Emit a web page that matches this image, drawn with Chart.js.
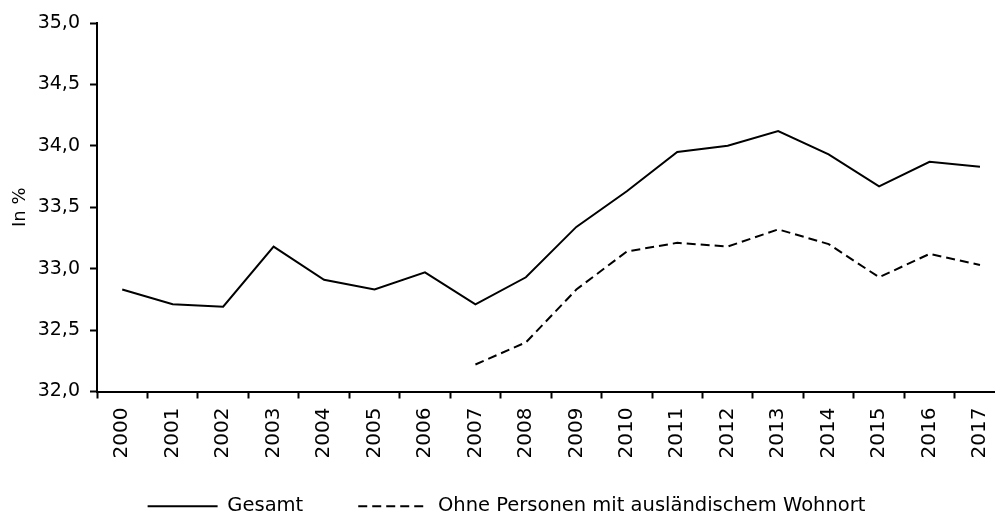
<!DOCTYPE html>
<html>
<head>
<meta charset="utf-8">
<script src="https://cdn.jsdelivr.net/npm/chart.js@4/dist/chart.umd.min.js"></script>
<style>
  html, body { margin: 0; padding: 0; background: #fff; overflow: hidden; }
  #wrap { width: 1013px; height: 515px; }
</style>
</head>
<body>
<div id="wrap"><canvas id="myChart"></canvas></div>
<script>
'use strict';

// data

let years = ['2000', '2001', '2002', '2003', '2004', '2005', '2006', '2007', '2008',
  '2009', '2010', '2011', '2012', '2013', '2014', '2015', '2016', '2017'];

let gesamt = [32.83, 32.71, 32.69, 33.18, 32.91, 32.83, 32.97, 32.71, 32.93,
  33.34, 33.63, 33.95, 34.00, 34.12, 33.93, 33.67, 33.87, 33.83];

let ohneAusland = [null, null, null, null, null, null, null, 32.22, 32.40,
  32.83, 33.14, 33.21, 33.18, 33.32, 33.20, 32.93, 33.12, 33.03];

let yTicks = [32.0, 32.5, 33.0, 33.5, 34.0, 34.5, 35.0];

let fontName = '"DejaVu Sans", sans-serif';
Chart.defaults.font.family = fontName;
Chart.defaults.font.size = 19;
Chart.defaults.color = '#000';

// the legend needs a wide gap between its items, which also pushes it down,
// so lift it back up after layout
const legendShift = {
  id: 'legendShift',
  afterLayout(chart) {
    chart.legend.top -= 16;
    chart.legend.bottom -= 16;
  }
};

// point-style legend items take the point's style, so copy the line's dash back in
function legendLabels(chart) {
  const items = Chart.defaults.plugins.legend.labels.generateLabels(chart);
  items.forEach(function (item) {
    const ds = chart.data.datasets[item.datasetIndex];
    item.lineDash = ds.borderDash || [];
    item.lineWidth = ds.borderWidth;
    item.strokeStyle = ds.borderColor;
  });
  return items;
}

const ctx = document.getElementById('myChart').getContext('2d');

const myChart = new Chart(ctx, {
  type: 'line',
  data: {
    labels: years,
    datasets: [
      {
        label: 'Gesamt',
        data: gesamt,
        borderColor: '#000',
        backgroundColor: 'transparent',
        borderWidth: 2,
        pointRadius: 0,
        tension: 0
      },
      {
        label: 'Ohne Personen mit ausländischem Wohnort',
        data: ohneAusland,
        borderColor: '#000',
        backgroundColor: 'transparent',
        borderWidth: 2,
        borderDash: [9, 5],
        pointRadius: 0,
        tension: 0
      }
    ]
  },
  options: {
    responsive: true,
    maintainAspectRatio: false,
    animation: false,
    layout: { padding: { left: 0, right: 0, top: 23, bottom: -27 } },
    plugins: {
      tooltip: { enabled: false },
      legend: {
        position: 'bottom',
        labels: {
          usePointStyle: true,
          pointStyle: 'line',
          pointStyleWidth: 70,
          padding: 55,
          font: { size: 19.5 },
          generateLabels: legendLabels
        }
      }
    },
    scales: {
      x: {
        offset: true,
        grid: {
          offset: true,
          drawOnChartArea: false,
          drawTicks: true,
          tickLength: 7,
          tickWidth: 2,
          tickColor: '#000'
        },
        border: { color: '#000', width: 2 },
        ticks: {
          minRotation: 90,
          maxRotation: 90,
          padding: 9,
          autoSkip: false,
          font: { size: 20 }
        },
        afterFit: function (scale) {
          scale.height = 66;
        }
      },
      y: {
        min: 32,
        max: 35,
        afterBuildTicks: function (scale) {
          scale.ticks = yTicks.map(v => ({ value: v }));
        },
        grid: {
          drawOnChartArea: false,
          drawTicks: true,
          tickLength: 7,
          tickWidth: 2,
          tickColor: '#000'
        },
        border: { color: '#000', width: 2 },
        ticks: {
          padding: 10,
          font: { size: 19 },
          callback: function (value) {
            return value.toFixed(1).replace('.', ',');
          }
        },
        title: {
          display: true,
          text: 'In %',
          font: { size: 18 },
          padding: { top: 10, bottom: 0 }
        },
        afterFit: function (scale) {
          scale.width = 97;
        }
      }
    }
  },
  plugins: [legendShift]
});
</script>
</body>
</html>
